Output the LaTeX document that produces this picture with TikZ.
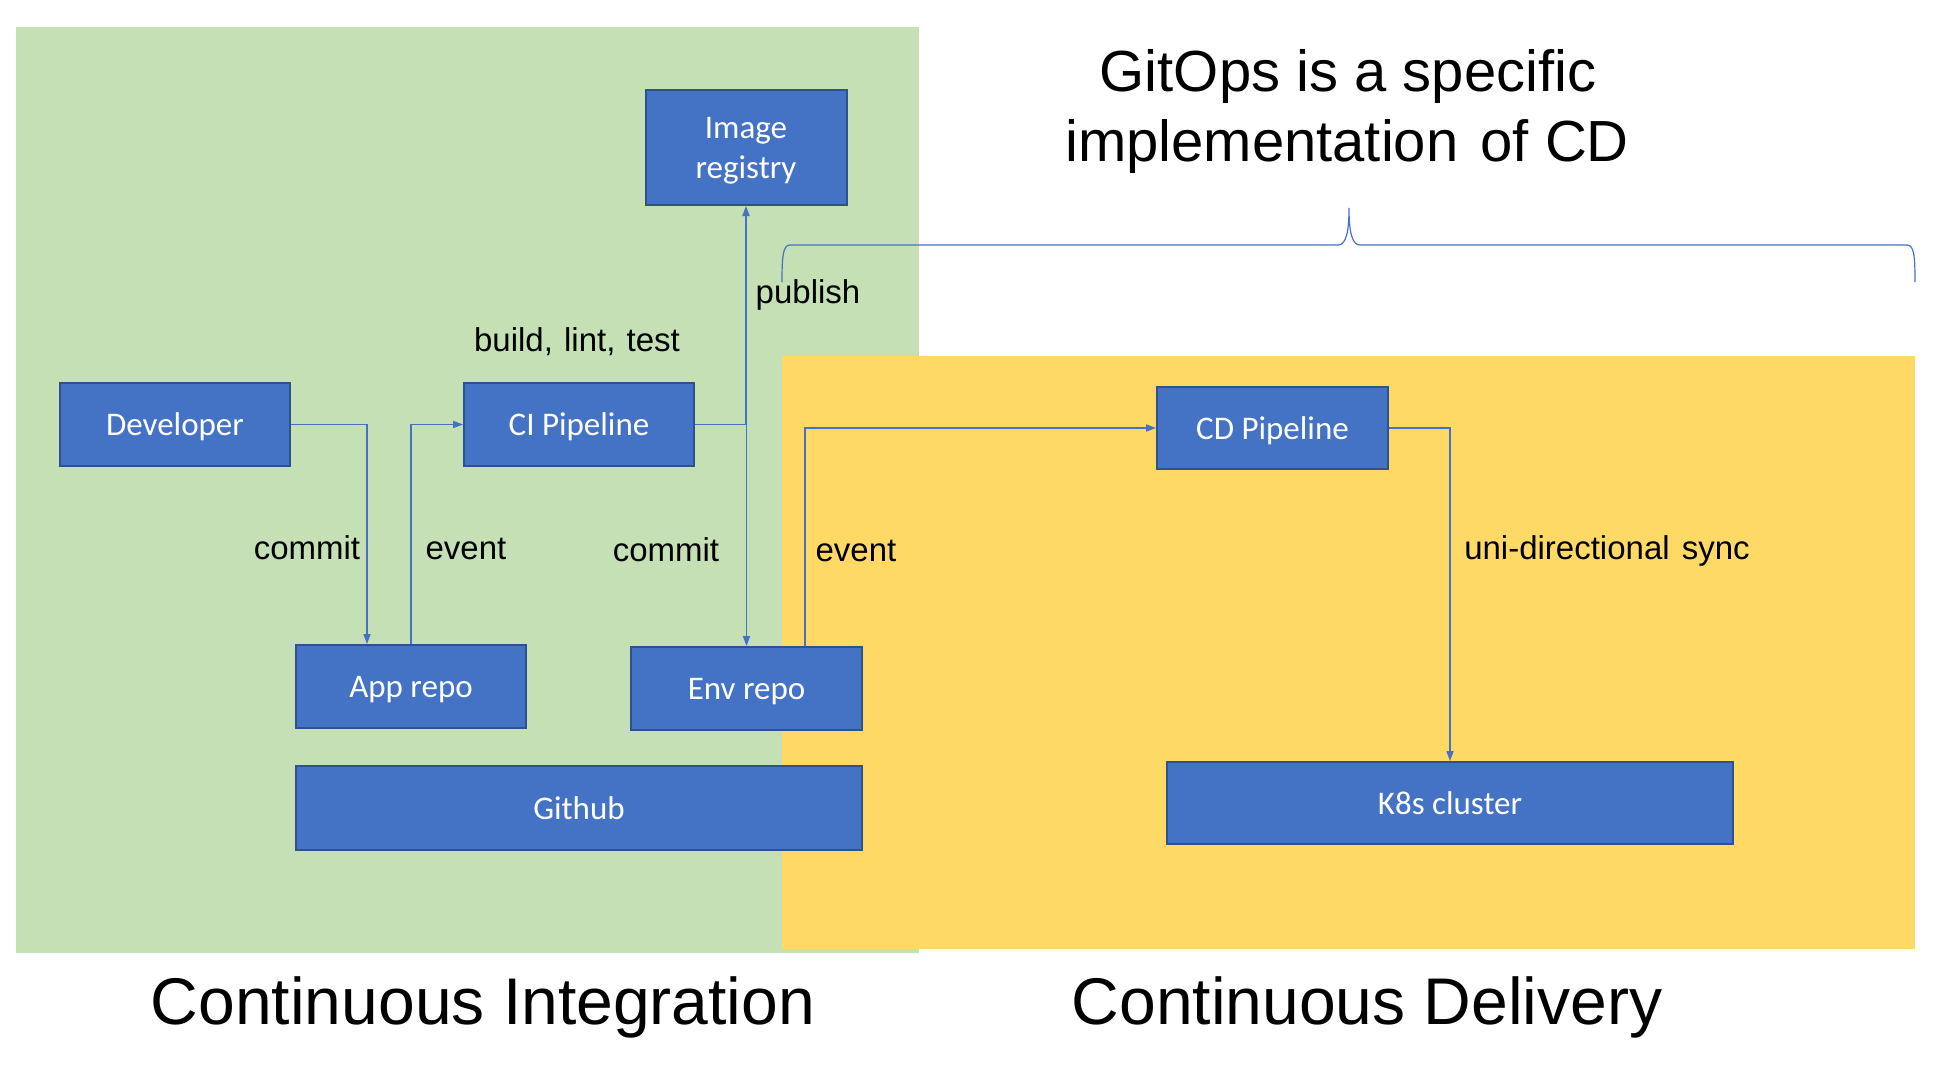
\documentclass[tikz,border=0pt]{standalone}
\usepackage{fontspec}
\setmainfont{Liberation Sans}
\newfontfamily\boxfont{Carlito}
\usetikzlibrary{arrows.meta}
\definecolor{cblue}{HTML}{4472C4}
\definecolor{cborder}{HTML}{2F528F}
\definecolor{cgreen}{HTML}{C5E0B4}
\definecolor{cyellow}{HTML}{FFD966}
\tikzset{
  box/.style={draw=cborder, fill=cblue, line width=1pt, text=white, inner sep=0pt, align=center,
    text depth=0pt, font=\boxfont\fontsize{16.5}{20}\selectfont},
  conn/.style={draw=cblue, line width=0.6pt, -{Triangle[length=5pt,width=3.6pt]}},
  thinline/.style={draw=cblue, line width=0.6pt},
  lbl/.style={anchor=base, inner sep=0pt, font=\fontsize{16.5}{20}\selectfont},
  bigtitle/.style={anchor=base, inner sep=0pt, font=\fontsize{33}{40}\selectfont},
  gitops/.style={anchor=base, inner sep=0pt, font=\fontsize{29}{35}\selectfont},
}
\begin{document}
\begin{tikzpicture}[x=0.5pt, y=-0.5pt]
\useasboundingbox (0,0) rectangle (1952,1081);
% background areas
\fill[cgreen] (16,27) rectangle (919,953);
\fill[cyellow] (782,356) rectangle (1915,949);
% brace
\draw[thinline] (782,282) .. controls (782,256) and (783,245) .. (790,245) -- (1338,245)
  .. controls (1346,245) and (1349,232) .. (1349,208)
  .. controls (1349,232) and (1352,245) .. (1360,245) -- (1907,245)
  .. controls (1914,245) and (1915,256) .. (1915,282);
% boxes
\node[box, minimum width=100.5pt, minimum height=57.5pt] (reg) at (746,147.5) {Image\\registry};
\node[box, minimum width=115pt, minimum height=41.5pt] (dev) at (175,424.5) {Developer};
\node[box, minimum width=115pt, minimum height=41.5pt] (ci) at (579,424.5) {CI Pipeline};
\node[box, minimum width=115.5pt, minimum height=41pt] (cd) at (1272.5,428) {CD Pipeline};
\node[box, minimum width=115pt, minimum height=41.5pt] (app) at (411,686.5) {App repo};
\node[box, minimum width=115.5pt, minimum height=41.5pt] (env) at (746.5,688.5) {Env repo};
\node[box, minimum width=283pt, minimum height=42pt] (gh) at (579,808) {Github};
\node[box, minimum width=283pt, minimum height=41pt] (k8s) at (1450,803) {K8s cluster};
% connectors
\draw[conn] (dev.east) -| ([xshift=-22pt]app.north);
\draw[conn] (app.north) |- (ci.west);
\draw[conn] (ci.east) -| (reg.south);
\draw[conn] (ci.east) -| (env.north);
\draw[conn] ([xshift=29.25pt]env.north) |- (cd.west);
\draw[conn] (cd.east) -| (k8s.north);
% labels
\node[lbl] (lbuild) at (577,351) {build,\hspace{1pt} lint,\hspace{1pt} test};
\node[lbl] (lpub) at (808,303) {publish};
\node[lbl] (lcommit1) at (307,559) {commit};
\node[lbl] (levent1) at (466,559) {event};
\node[lbl] (lcommit2) at (666,561) {commit};
\node[lbl] (levent2) at (856,561) {event};
\node[lbl] (lsync) at (1607,559) {uni-directional\hspace{1.5pt} sync};
% titles
\node[bigtitle] (tci) at (483,1024) {Continuous Integration};
\node[bigtitle] (tcd) at (1367,1024) {Continuous Delivery};
\node[gitops] (g1) at (1348,91) {GitOps is a specific};
\node[gitops] (g2) at (1347,161) {implementation\hspace{3pt} of CD};
\end{tikzpicture}
\end{document}
